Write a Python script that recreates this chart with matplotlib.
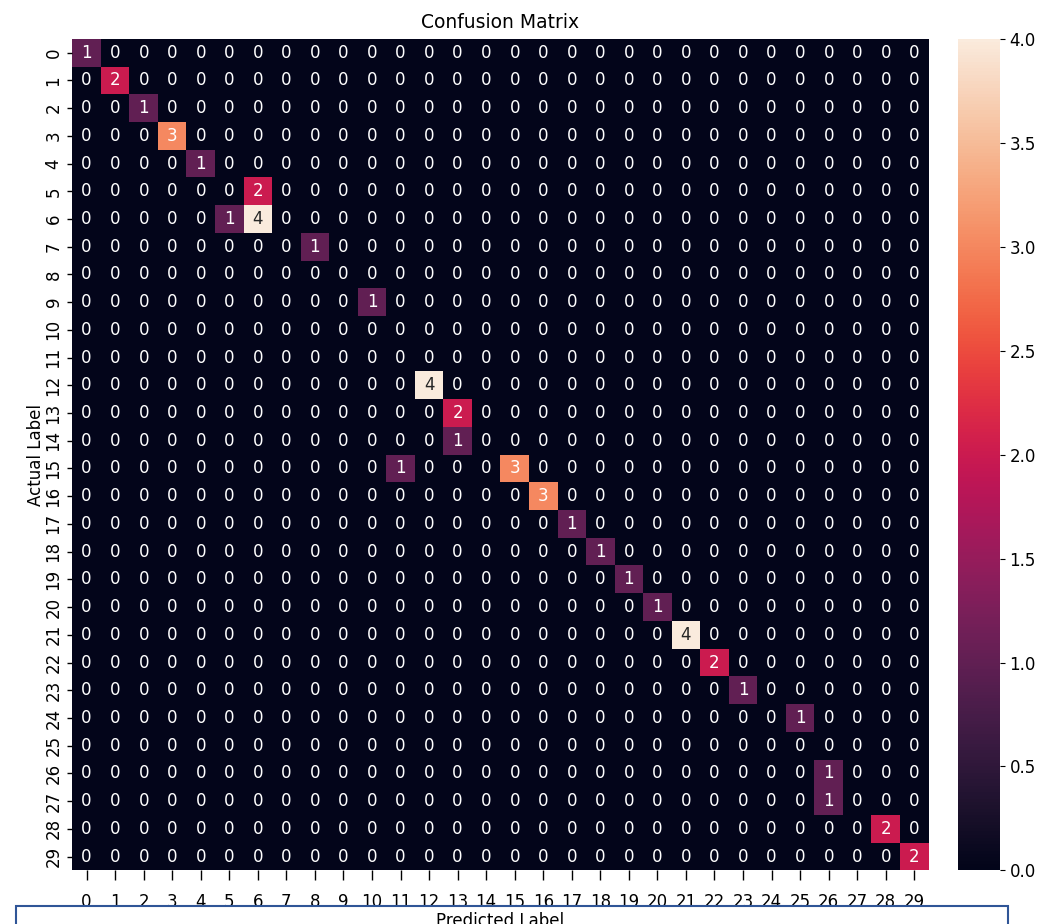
import numpy as np
import matplotlib
matplotlib.use("Agg")
import matplotlib.pyplot as plt
import seaborn as sns

n_classes = 30
labels = list(range(n_classes))

# non-zero cells of the matrix: (actual, predicted, count)
actual_idx = [0, 1, 2, 3, 4, 5, 6, 6, 7, 9, 12, 13, 14, 15, 15, 16, 17, 18, 19, 20, 21, 22, 23, 24, 26, 27, 28, 29]
pred_idx = [0, 1, 2, 3, 4, 6, 5, 6, 8, 10, 12, 13, 13, 11, 15, 16, 17, 18, 19, 20, 21, 22, 23, 25, 26, 26, 28, 29]
counts = [1, 2, 1, 3, 1, 2, 1, 4, 1, 1, 4, 2, 1, 1, 3, 3, 1, 1, 1, 1, 4, 2, 1, 1, 1, 1, 2, 2]

cm = np.zeros((n_classes, n_classes), dtype=int)
for a, p, c in zip(actual_idx, pred_idx, counts):
    cm[a, p] = c

fig = plt.figure(figsize=(10.48, 9.24), dpi=100)
ax = fig.add_axes([0.069, 0.058, 0.817, 0.9])
cax = fig.add_axes([0.914, 0.058, 0.04, 0.9])

sns.heatmap(cm, annot=True, fmt="d", ax=ax, cbar_ax=cax,
            xticklabels=labels, yticklabels=labels, annot_kws={"size": 12})
ax.set_title("Confusion Matrix", fontsize=13.5, pad=8)
ax.set_xlabel("Predicted Label", fontsize=12, labelpad=1)
ax.set_ylabel("Actual Label", fontsize=12, labelpad=0)
ax.tick_params(labelsize=12, color="black", width=1)
ax.tick_params(axis="x", length=7, pad=9)
plt.setp(ax.get_yticklabels(), rotation=90, va="center")
cax.tick_params(labelsize=12)

# the framed box at the bottom of the screenshot
fig.patches.append(plt.Rectangle((0.015, -0.01), 0.947, 0.03, transform=fig.transFigure,
                                 fill=False, edgecolor="#2f5597", linewidth=1.5, zorder=10))

fig.savefig("out.png", dpi=100)
